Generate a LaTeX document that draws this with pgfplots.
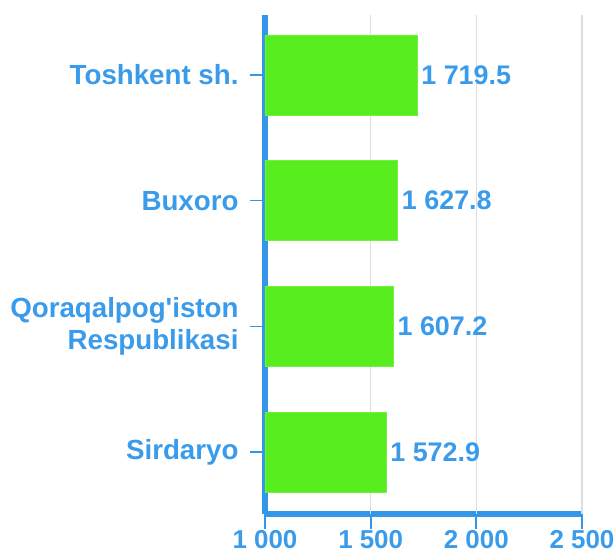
\documentclass[border=0pt]{standalone}
\usepackage{pgfplots}
\pgfplotsset{compat=1.18}
\usepackage{fontspec}
\setmainfont{Liberation Sans}[Ligatures=TeXOff]
\definecolor{barg}{RGB}{88,237,30}
\definecolor{axb}{RGB}{51,150,235}
\definecolor{txb}{RGB}{58,155,235}
\definecolor{gridc}{RGB}{221,221,221}
\newcommand\lbl{\fontsize{27}{32}\selectfont\bfseries}
\newcommand\ylbl{\fontsize{27.8}{32}\selectfont\bfseries}
\newcommand\xlbl{\fontsize{26}{31}\selectfont\bfseries}
\begin{document}
\begin{tikzpicture}[x=1bp,y=1bp]
\useasboundingbox (-265bp,-40bp) rectangle (349bp,514bp);
\begin{axis}[
  at={(0,0)}, anchor=south west,
  scale only axis, width=317bp, height=499bp,
  xmin=1000, xmax=2500, ymin=-0.493, ymax=3.477,
  xtick={1000,1500,2000,2500},
  ytick={0,1,2,3},
  yticklabels={Sirdaryo,{Qoraqalpog'iston\\Respublikasi},Buxoro,{Toshkent sh.}},
  axis x line*=bottom, axis y line*=left,
  axis line style={-, line width=6bp, color=axb},
  tick align=outside, major tick length=15bp,
  xtick style={draw=axb, line width=1.6bp},
  ytick style={draw=axb, line width=1.4bp},
  extra x ticks={1500,2000,2500}, extra x tick labels={},
  extra x tick style={grid=major, major grid style={draw=gridc, line width=1.5bp}, major tick length=0pt},
  /pgf/number format/assume math mode=true,
  /pgf/number format/1000 sep={\ },
  xticklabel style={font=\xlbl, text=txb, yshift=2bp},
  yticklabel style={font=\ylbl, text=txb, align=right, xshift=-8bp},
  clip=false,
]
\addplot[xbar, bar width=80bp, bar shift=0pt, fill=barg, draw=barg!85!white, line width=0.6bp,
  nodes near coords,
  every node near coord/.append style={font=\lbl, text=txb, anchor=west, inner sep=4bp,
    /pgf/number format/.cd, fixed, fixed zerofill, precision=1, 1000 sep={\ }, assume math mode=true}]
  coordinates {
  (1572.9,0) (1607.2,1) (1627.8,2) (1719.5,3)
};
\coordinate (ta) at (rel axis cs:0,0);
\coordinate (tb) at (rel axis cs:0.33333,0);
\coordinate (tc) at (rel axis cs:0.66667,0);
\coordinate (td) at (rel axis cs:1,0);
\end{axis}
\foreach \t in {ta,tb,tc,td}{
  \fill[axb] (\t) ++(-1bp,0bp) rectangle ++(2bp,-15bp);
}
\end{tikzpicture}
\end{document}
